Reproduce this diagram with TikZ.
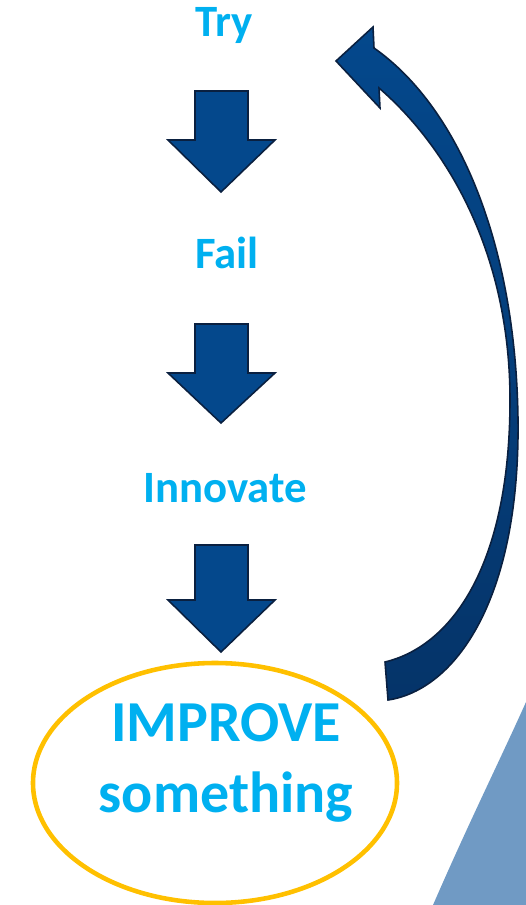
\documentclass[tikz,border=0pt]{standalone}
\usepackage{fontspec}
\setmainfont{Carlito}
\usepackage{tikz}
\usetikzlibrary{shapes.geometric}

\definecolor{stepblue}{RGB}{0,176,240}
\definecolor{arrowfill}{RGB}{4,72,140}
\definecolor{arrowdark}{RGB}{5,52,105}
\definecolor{arrowline}{RGB}{10,32,64}
\definecolor{ringgold}{RGB}{255,192,0}
\definecolor{cornerblue}{RGB}{112,154,196}

\tikzset{
	steptext/.style={font=\bfseries\fontsize{25.5}{30}\selectfont, text=stepblue, anchor=base},
	blockarrow/.style={fill=arrowfill, draw=arrowline, line width=0.9pt, line join=miter},
}

\begin{document}
\begin{tikzpicture}[x=0.02cm, y=-0.02cm]
		\useasboundingbox (0,0) rectangle (526,905);
		%\draw [help lines, step=50] (0,0) grid (526,905);
		% corner piece
		\fill [cornerblue] (433,905) .. controls (470,820) and (500,760) .. (526,702) -- (526,905) -- cycle;
		% steps
		\node [steptext] (try) at (224,37) {Try};
		\node [steptext] (fail) at (227,269) {Fail};
		\node [steptext] (innovate) at (225,502) {Innovate};
		\node [ellipse, draw=ringgold, line width=2.6pt, minimum width=364*0.02cm, minimum height=240*0.02cm]
			(improve) at (215,783) {};
		\node [text=stepblue, align=center, font=\bfseries\fontsize{33}{40}\selectfont, anchor=base]
			(improvetext) at (226,812) {IMPROVE\\something};
		% block arrows between the steps
		\draw [blockarrow] (195,91) -- (248,91) -- (248,140) -- (275,140) -- (221,192) -- (168,140) -- (195,140) -- cycle;
		\draw [blockarrow] (195,324) -- (248,324) -- (248,373) -- (275,373) -- (221,423) -- (168,373) -- (195,373) -- cycle;
		\draw [blockarrow] (195,545) -- (248,545) -- (248,600) -- (275,600) -- (221,652) -- (168,600) -- (195,600) -- cycle;
		% curved arrow back to the top
		\draw [draw=arrowline, line width=0.9pt, top color=arrowfill, bottom color=arrowdark]
			(385,662) .. controls (455,645) and (510,560) .. (510,400)
			.. controls (510,250) and (445,145) .. (379,88)
			-- (380,108) -- (336,61) -- (373,27) -- (374,48)
			.. controls (462,110) and (516,250) .. (518,420)
			.. controls (520,600) and (455,690) .. (388,700) -- cycle;
	\end{tikzpicture}
\end{document}
